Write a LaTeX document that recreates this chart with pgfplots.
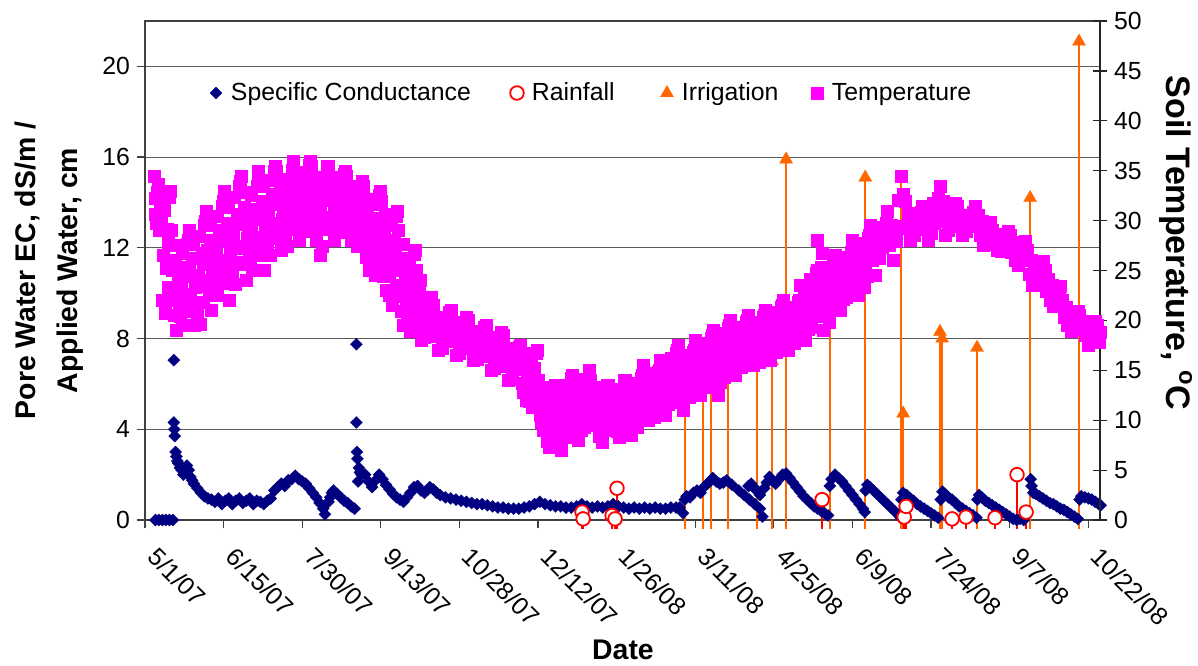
\documentclass[border=0pt]{standalone}
\usepackage{pgfplots}
\pgfplotsset{compat=1.18}
\usepackage{fontspec}
\setmainfont{Liberation Sans}
\definecolor{ecnavy}{RGB}{0,0,128}
\definecolor{irrorange}{RGB}{255,102,0}
\definecolor{tempmag}{RGB}{255,0,255}
\definecolor{rainred}{RGB}{255,0,0}
\newcommand{\tickfont}{\fontsize{12.4}{14}\selectfont}
\pgfplotsset{
 ecstyle/.style={only marks, mark=square*, mark size=2.15pt, color=ecnavy, mark options={rotate=45, fill=ecnavy, draw=ecnavy, line width=0.1pt}},
 rainstyle/.style={only marks, mark=*, mark size=3.4pt, color=rainred, mark options={fill=white, draw=rainred, line width=0.9pt}},
 irrstyle/.style={only marks, mark=triangle*, mark size=3.8pt, color=irrorange, mark options={fill=irrorange, draw=irrorange, line width=0.1pt}},
 tstyle/.style={only marks, mark=square*, mark size=3.0pt, color=tempmag, mark options={fill=tempmag, draw=tempmag, line width=0.1pt}},
 myleg/.style={legend image code/.code={\path[draw=none,fill=none] (-3.5pt,-3pt) rectangle (3.5pt,3pt); \draw[##1] plot coordinates {(0pt,0pt)};}},
}
\begin{document}
\begin{tikzpicture}
\useasboundingbox (-72.5pt,-72.5pt) rectangle (526.5pt,260pt);
\begin{axis}[
  at={(0,0)}, anchor=south west,
  scale only axis, width=477.5pt, height=249.5pt,
  xmin=0, xmax=546.7, ymin=0, ymax=22,
  clip=false,
  axis line style={black!75, line width=0.6pt},
  xtick={0,45,...,540},
  xticklabels={5/1/07,6/15/07,7/30/07,9/13/07,10/28/07,12/12/07,1/26/08,3/11/08,4/25/08,6/9/08,7/24/08,9/7/08,10/22/08},
  xtick pos=lower, ytick pos=left,
  tick align=outside,
  major tick length=4pt,
  tick style={black!75, line width=0.6pt},
  ytick={0,4,...,20},
  ymajorgrids, grid style={black!65, line width=0.5pt},
  xticklabel style={xshift=7pt, yshift=-4pt, rotate=-45, anchor=north west, font=\tickfont},
  yticklabel style={font=\tickfont},
  /pgf/number format/assume math mode=true,
  ylabel={Pore Water EC, dS/m /\\Applied Water, cm},
  ylabel style={at={(axis description cs:-0.1005,0.5)}, anchor=center, align=center, font=\bfseries\fontsize{14.2}{20.8}\selectfont},
  xlabel={Date},
  xlabel style={at={(axis description cs:0.5005,-0.2605)}, anchor=center, font=\bfseries\fontsize{14.2}{17}\selectfont},
]
% Irrigation (drop lines + triangles)
\addplot[irrstyle, error bars/.cd, y dir=minus, y explicit, error mark=none, error bar style={line width=1pt, irrorange}]
 table[x=d, y=v, y error minus=e] {
d v e
309.2 6.5 6.9
319.5 6.8 7.2
324.1 7.0 7.4
333.6 7.5 7.9
350.4 7.0 7.4
359.0 7.0 7.4
367.0 15.9 16.3
392.2 9.5 9.9
412.3 15.1 15.5
432.9 15.1 15.5
434.0 4.7 5.1
455.1 8.3 8.7
456.3 8.0 8.4
476.3 7.6 8.0
506.7 14.2 14.6
534.7 21.1 21.5
};
% Specific conductance
\addplot[ecstyle] coordinates {
(6,0)(8,0)(10,0)(12,0)(14,0)(16,0)
(16.5,7.05)(16.5,4.3)(16.8,4.0)(17,3.7)(17.5,3.0)(18,2.8)(18.5,2.6)(19,2.5)(20,2.3)(21,2.2)(22,2.0)(23,2.2)(24,2.4)(25,2.2)(26,1.9)(27,1.75)(28,1.6)(30,1.4)(32,1.2)(34,1.05)(36,0.95)(38,0.9)
(40,0.8)(42,0.95)(44,0.7)(46,0.85)(48,0.95)(50,0.7)(52,0.85)(54,0.95)(56,0.75)(58,0.85)(60,0.95)(62,0.7)(64,0.85)(66,0.8)(68,0.7)(70,0.85)(72,0.95)
(74,1.3)(76,1.45)(78,1.6)(80,1.5)(82,1.75)(84,1.8)(86,1.95)(88,1.8)(90,1.7)(92,1.6)(94,1.4)(96,1.2)(98,1.0)(100,0.75)(102,0.5)(103,0.25)(105,0.8)(106,1.0)(107,1.2)(108,1.3)(110,1.15)(112,1.0)(114,0.85)(116,0.75)(118,0.6)(120,0.5)
(121,7.75)(121,4.3)(121.3,3.0)(121.6,2.7)(122,1.7)(122.5,2.3)(123,2.1)(124,2.0)(126,2.0)(128,1.7)(130,1.45)(132,1.75)(134,2.0)(136,1.8)(138,1.55)(140,1.35)(142,1.15)(144,1.0)(146,0.9)(148,0.8)(150,1.0)(152,1.2)(154,1.45)(156,1.5)(158,1.3)(160,1.2)(162,1.35)(163,1.45)(165,1.35)(167,1.2)(169,1.1)(172,1.0)(175,0.95)(178,0.9)(181,0.85)(184,0.8)(187,0.75)(190,0.7)(193,0.7)(196,0.65)(199,0.6)(202,0.55)(205,0.55)(208,0.5)(211,0.5)(214,0.5)(217,0.55)(220,0.6)(223,0.7)(226,0.8)(229,0.7)(232,0.65)(235,0.6)(238,0.6)(241,0.55)(244,0.55)(247,0.6)(250,0.7)(253,0.6)(256,0.55)(259,0.6)(262,0.55)(265,0.6)(268,0.7)(271,0.6)(274,0.55)(277,0.5)(280,0.55)(283,0.5)(286,0.55)(289,0.5)(292,0.55)(295,0.5)(298,0.5)(301,0.55)(304,0.55)(306,0.55)
(308,0.3)(309,0.9)(310,1.05)(312,1.0)(314,1.2)(316,1.3)(318,1.2)(320,1.45)(322,1.6)(324,1.75)(325,1.85)(327,1.7)(329,1.6)(331,1.65)(333,1.75)(336,1.55)(340,1.3)(343,1.1)(346,0.9)(349,0.7)(352,0.5)
(345.5,1.5)(347,1.6)(348.5,1.45)(350,1.3)(352,1.1)(353.5,0.15)
(354.5,1.4)(356,1.65)(357.5,1.9)(359,1.75)(361,1.6)(363,1.8)(365,2.0)(367,2.05)(369,1.85)(371,1.65)(373,1.45)(375,1.25)(377,1.05)(379,0.9)(381,0.75)(383,0.6)(385,0.5)(387,0.4)(389,0.3)(391,0.2)
(392,1.5)(393,1.8)(395,2.0)(397,1.85)(399,1.7)(401,1.5)(403,1.3)(405,1.1)(407,0.9)(409,0.7)(411,0.5)(412,0.35)
(412.5,1.3)(413.5,1.55)(415,1.45)(417,1.3)(419,1.15)(421,1.0)(423,0.85)(425,0.7)(427,0.55)(429,0.4)(431,0.25)(432.5,0.1)
(433,0.9)(434,1.2)(436,1.1)(438,0.95)(440,0.85)(442,0.7)(444,0.6)(446,0.5)(448,0.4)(450,0.3)(452,0.2)(454,0.1)
(455.5,0.9)(456.5,1.25)(458,1.15)(460,1.0)(462,0.9)(464,0.75)(466,0.6)(468,0.5)(470,0.4)(472,0.3)(474,0.2)(476,0.1)
(476.5,0.9)(477.5,1.1)(479,1.0)(481,0.85)(483,0.75)(485,0.65)(487,0.55)(489,0.45)(491,0.35)(493,0.25)(495,0.15)(497,0.05)(499,0.0)(501,0.05)(503,0.0)
(507,1.8)(507.5,1.5)(508.5,1.2)(510,1.15)(512,1.05)(514,0.95)(516,0.85)(518,0.75)(520,0.7)(522,0.6)(524,0.5)(526,0.45)(528,0.35)(530,0.25)(532,0.15)(534,0.05)
(535,0.9)(536,1.05)(538,1.0)(540,0.95)(542,0.9)(544,0.8)(546,0.7)(547,0.65)
};
% Rainfall (drop lines + open circles)
\addplot[rainstyle, error bars/.cd, y dir=minus, y explicit, error mark=none, error bar style={line width=1pt, rainred}]
 table[x=d, y=v, y error minus=e] {
d v e
250.2 0.35 0.75
250.8 0.05 0.45
267.4 0.2 0.6
269.1 0.05 0.45
270.2 1.4 1.8
387.6 0.9 1.3
434.6 0.13 0.53
435.7 0.6 1.0
462.0 0.05 0.45
470.0 0.13 0.53
486.6 0.1 0.5
499.2 2.0 2.4
504.4 0.35 0.75
};
\end{axis}
\begin{axis}[
  at={(0,0)}, anchor=south west,
  scale only axis, width=477.5pt, height=249.5pt,
  xmin=0, xmax=546.7, ymin=0, ymax=50,
  clip=false,
  axis x line=none,
  axis y line*=right,
  axis line style={black!85, line width=0.6pt},
  ytick={0,5,...,50},
  tick align=center,
  major tick length=7pt,
  tick style={black!85, line width=0.6pt},
  yticklabel style={font=\tickfont},
  /pgf/number format/assume math mode=true,
  legend columns=4,
  legend cell align=left,
  legend style={at={(axis description cs:0.067,0.8557)}, anchor=west, draw=none, fill=none, inner sep=0pt, outer sep=0pt, font=\tickfont, nodes={inner sep=0pt},
   /tikz/every odd column/.append style={column sep=4pt},
   /tikz/every even column/.append style={column sep=0pt}},
]
\addlegendimage{ecstyle, myleg}
\addlegendentry{\makebox[139.5pt][l]{Specific Conductance}}
\addlegendimage{rainstyle, myleg}
\addlegendentry{\makebox[64pt][l]{Rainfall}}
\addlegendimage{irrstyle, myleg}
\addlegendentry{\makebox[64pt][l]{Irrigation}}
\addplot[tstyle, myleg] coordinates {
(5,34.5)(6,30.7)(7,32.9)(8,29.0)(9,31.8)
(10,22.0)(11,31.1)(12,25.2)(13,27.8)(14,32.4)
(15,29)(16,22)(17,26)(18,19)(19,24)
(20,20.4)(21,26.7)(22,22.6)(23,24.4)(24,27.6)
(25,29)(26,22.4)(27,26.2)(28,19.5)(29,24.3)
(30,20.7)(31,28.4)(32,23.4)(33,25.6)(34,29.5)
(35,31)(36,24)(37,28)(38,21)(39,26)
(40,23.5)(41,30.5)(42,26)(43,28)(44,31.5)
(45,33)(46,25.3)(47,29.7)(48,22)(49,27.5)
(50,24.7)(51,32.4)(52,27.4)(53,29.6)(54,33.5)
(55,34.5)(56,27.2)(57,31.4)(58,24)(59,29.3)
(60,25.9)(61,32.6)(62,28.3)(63,30.2)(64,33.5)
(65,35)(66,28)(67,32)(68,25)(69,30)
(70,27.4)(71,34.1)(72,29.8)(73,31.7)(74,35.0)
(75,35)(76,29.4)(77,32.6)(78,27)(79,31)
(80,28.3)(81,34.2)(82,30.4)(83,32.1)(84,35.1)
(85,36)(86,30.4)(87,33.6)(88,28)(89,32)
(90,29.6)(91,34.9)(92,31.5)(93,33)(94,35.6)
(95,35.5)(96,30.3)(97,33.3)(98,28)(99,31.8)
(100,26.5)(101,34.2)(102,30.4)(103,32.1)(104,35.1)
(105,35.5)(106,30.3)(107,33.3)(108,28)(109,31.8)
(110,29.5)(111,34)(112,31.1)(113,32.4)(114,34.7)
(115,34.5)(116,30)(117,32.6)(118,28)(119,31.3)
(120,28.1)(121,33)(122,29.8)(123,31.2)(124,33.7)
(125,33.5)(126,27.6)(127,31)(128,25)(129,29.3)
(130,25.4)(131,31.7)(132,27.6)(133,29.4)(134,32.6)
(135,32)(136,25.7)(137,29.3)(138,23)(139,27.5)
(140,22.5)(141,29.5)(142,25)(143,27)(144,30.5)
(145,29)(146,22.4)(147,26.2)(148,19.5)(149,24.3)
(150,19.8)(151,25.7)(152,21.9)(153,23.6)(154,26.6)
(155,25)(156,20.1)(157,22.9)(158,18)(159,21.5)
(160,18.3)(161,21.8)(162,19.5)(163,20.5)(164,22.3)
(165,21.5)(166,18.4)(167,20.2)(168,17)(169,19.3)
(170,17.2)(171,20.3)(172,18.3)(173,19.2)(174,20.8)
(175,21)(176,17.9)(177,19.7)(178,16.5)(179,18.8)
(180,16.7)(181,19.8)(182,17.8)(183,18.7)(184,20.3)
(185,20)(186,17.2)(187,18.8)(188,16)(189,18)
(190,16.1)(191,18.9)(192,17.1)(193,17.9)(194,19.3)
(195,19.5)(196,16.4)(197,18.2)(198,15)(199,17.3)
(200,15.2)(201,18.3)(202,16.3)(203,17.2)(204,18.8)
(205,18.5)(206,15.4)(207,17.2)(208,14)(209,16.3)
(210,14.1)(211,16.9)(212,15.1)(213,15.9)(214,17.3)
(215,17.5)(216,13.7)(217,15.9)(218,12)(219,14.8)
(220,11.9)(221,16.1)(222,13.4)(223,14.6)(224,16.7)
(225,14)(226,10.5)(227,12.5)(228,9)(229,11.5)
(230,7.9)(231,12.1)(232,9.4)(233,10.6)(234,12.7)
(235,13.5)(236,9)(237,11.6)(238,7)(239,10.3)
(240,9)(241,13.5)(242,10.6)(243,11.9)(244,14.2)
(245,13)(246,9.5)(247,11.5)(248,8)(249,10.5)
(250,9.9)(251,14.1)(252,11.4)(253,12.6)(254,14.7)
(255,14)(256,10.9)(257,12.7)(258,9.5)(259,11.8)
(260,8.4)(261,12.6)(262,9.9)(263,11.1)(264,13.2)
(265,13.5)(266,10.4)(267,12.2)(268,9)(269,11.3)
(270,8.9)(271,13.1)(272,10.4)(273,11.6)(274,13.7)
(275,14)(276,10.2)(277,12.4)(278,8.5)(279,11.3)
(280,9.8)(281,13.7)(282,11.2)(283,12.3)(284,14.2)
(285,15.5)(286,11.7)(287,13.9)(288,10)(289,12.8)
(290,10.8)(291,14.3)(292,12)(293,13)(294,14.8)
(295,16)(296,12.2)(297,14.4)(298,10.5)(299,13.3)
(300,12.3)(301,16.2)(302,13.7)(303,14.8)(304,16.7)
(305,17.5)(306,13)(307,15.6)(308,11)(309,14.3)
(310,12.8)(311,16.3)(312,14)(313,15)(314,16.8)
(315,18)(316,14.2)(317,16.4)(318,12.5)(319,15.3)
(320,13.8)(321,17.7)(322,15.2)(323,16.3)(324,18.2)
(325,19)(326,14.5)(327,17.1)(328,12.5)(329,15.8)
(330,14.8)(331,18.7)(332,16.2)(333,17.3)(334,19.2)
(335,20)(336,16.2)(337,18.4)(338,14.5)(339,17.3)
(340,15.8)(341,19.3)(342,17)(343,18)(344,19.8)
(345,20.5)(346,17)(347,19)(348,15.5)(349,18)
(350,16.3)(351,19.8)(352,17.5)(353,18.5)(354,20.3)
(355,21)(356,17.5)(357,19.5)(358,16)(359,18.5)
(360,17.3)(361,20.8)(362,18.5)(363,19.5)(364,21.3)
(365,22)(366,18.5)(367,20.5)(368,17)(369,19.5)
(370,18.2)(371,21.3)(372,19.3)(373,20.2)(374,21.8)
(375,23.5)(376,19.7)(377,21.9)(378,18)(379,20.8)
(380,19.9)(381,24.1)(382,21.4)(383,22.6)(384,24.7)
(385,28)(386,21.7)(387,25.3)(388,19)(389,23.5)
(390,20.5)(391,25)(392,22.1)(393,23.4)(394,25.7)
(395,26.5)(396,22.7)(397,24.9)(398,21)(399,23.8)
(400,22.8)(401,26.3)(402,24)(403,25)(404,26.8)
(405,28)(406,24.2)(407,26.4)(408,22.5)(409,25.3)
(410,23.8)(411,27.7)(412,25.2)(413,26.3)(414,28.2)
(415,29.5)(416,26)(417,28)(418,24.5)(419,27)
(420,26.2)(421,29.3)(422,27.3)(423,28.2)(424,29.8)
(425,31)(426,27.5)(427,29.5)(428,26)(429,28.5)
(430,27.9)(431,32.1)(432,29.4)(433,34.5)(434,32.7)
(435,32)(436,29.2)(437,30.8)(438,28)(439,30)
(440,28.5)(441,30.6)(442,29.2)(443,29.8)(444,30.9)
(445,31.5)(446,29.1)(447,30.5)(448,28)(449,29.8)
(450,28.7)(451,31.8)(452,29.8)(453,30.7)(454,32.3)
(455,33.5)(456,30)(457,32)(458,28.5)(459,31)
(460,29)(461,31.5)(462,29.9)(463,30.6)(464,31.8)
(465,31.5)(466,29.4)(467,30.6)(468,28.5)(469,30)
(470,28.9)(471,30.6)(472,29.5)(473,30)(474,30.9)
(475,31.5)(476,29.4)(477,30.6)(478,28.5)(479,30)
(480,27.5)(481,29.6)(482,28.2)(483,28.8)(484,29.9)
(485,29)(486,27.6)(487,28.4)(488,27)(489,28)
(490,26.9)(491,28.6)(492,27.5)(493,28)(494,28.9)
(495,28.5)(496,26.8)(497,27.8)(498,26)(499,27.3)
(500,25.5)(501,27.6)(502,26.2)(503,26.8)(504,27.9)
(505,27)(506,24.6)(507,26)(508,23.5)(509,25.3)
(510,23.5)(511,25.6)(512,24.2)(513,24.8)(514,25.9)
(515,25)(516,22.9)(517,24.1)(518,22)(519,23.5)
(520,21.4)(521,23.1)(522,22)(523,22.5)(524,23.4)
(525,22)(526,20.3)(527,21.3)(528,19.5)(529,20.8)
(530,18.9)(531,20.6)(532,19.5)(533,20)(534,20.9)
(535,20.5)(536,19.1)(537,19.9)(538,18.5)(539,19.5)
(540,17.5)(541,19.6)(542,18.2)(543,18.8)(544,19.9)
(545,19.5)(546,17.8)(547,18.8)
};
\addlegendentry{Temperature}
% additional temperature readings (half days)
\addplot[tstyle, forget plot] coordinates {
(5.5,32.3)(6.5,29.8)(7.5,33.7)(8.5,31.2)(9.5,30.1)
(10.5,26.5)(11.5,20.7)(12.5,29.1)(13.5,23.3)(14.5,33)
(15.5,25)(16.5,20.5)(17.5,27.5)(18.5,23)(19.5,21)
(20.5,23.5)(21.5,19.5)(22.5,25.3)(23.5,21.3)(24.5,28)
(25.5,25.2)(26.5,20.9)(27.5,27.6)(28.5,23.3)(29.5,21.4)
(30.5,24.5)(31.5,19.6)(32.5,26.7)(33.5,21.8)(34.5,30)
(35.5,27)(36.5,22.5)(37.5,29.5)(38.5,25)(39.5,23)
(40.5,27)(41.5,22.5)(42.5,29)(43.5,24.5)(44.5,32)
(45.5,28.6)(46.5,23.7)(47.5,31.4)(48.5,26.4)(49.5,24.2)
(50.5,28.5)(51.5,23.6)(52.5,30.7)(53.5,25.8)(54.5,34)
(55.5,30.3)(56.5,25.6)(57.5,32.9)(58.5,28.2)(59.5,26.1)
(60.5,29.3)(61.5,25)(62.5,31.2)(63.5,26.9)(64.5,34)
(65.5,31)(66.5,26.5)(67.5,33.5)(68.5,29)(69.5,27)
(70.5,30.8)(71.5,26.5)(72.5,32.7)(73.5,28.4)(74.5,35.5)
(75.5,31.8)(76.5,28.2)(77.5,33.8)(78.5,30.2)(79.5,28.6)
(80.5,31.3)(81.5,27.4)(82.5,33)(83.5,29.1)(84.5,35.5)
(85.5,32.8)(86.5,29.2)(87.5,34.8)(88.5,31.2)(89.5,29.6)
(90.5,32.3)(91.5,28.9)(92.5,33.8)(93.5,30.4)(94.5,36)
(95.5,32.5)(96.5,29.1)(97.5,34.4)(98.5,31)(99.5,29.5)
(100.5,31.3)(101.5,27.4)(102.5,33)(103.5,29.1)(104.5,35.5)
(105.5,32.5)(106.5,29.1)(107.5,34.4)(108.5,31)(109.5,29.5)
(110.5,31.8)(111.5,28.8)(112.5,33.1)(113.5,30.1)(114.5,35)
(115.5,31.9)(116.5,29)(117.5,33.5)(118.5,30.6)(119.5,29.3)
(120.5,30.5)(121.5,27.4)(122.5,31.9)(123.5,28.8)(124.5,34)
(125.5,30.1)(126.5,26.3)(127.5,32.2)(128.5,28.4)(129.5,26.7)
(130.5,28.5)(131.5,24.5)(132.5,30.3)(133.5,26.3)(134.5,33)
(135.5,28.4)(136.5,24.4)(137.5,30.7)(138.5,26.6)(139.5,24.8)
(140.5,26)(141.5,21.5)(142.5,28)(143.5,23.5)(144.5,31)
(145.5,25.2)(146.5,20.9)(147.5,27.6)(148.5,23.3)(149.5,21.4)
(150.5,22.8)(151.5,18.9)(152.5,24.5)(153.5,20.6)(154.5,27)
(155.5,22.2)(156.5,19.1)(157.5,24)(158.5,20.8)(159.5,19.4)
(215.5,15.3)(216.5,12.8)(217.5,16.7)(218.5,14.2)(219.5,13.1)
(220.5,14)(221.5,11.3)(222.5,15.2)(223.5,12.5)(224.5,17)
(225.5,12)(226.5,9.8)(227.5,13.3)(228.5,11)(229.5,10)
(230.5,10)(231.5,7.3)(232.5,11.2)(233.5,8.5)(234.5,13)
(235.5,10.9)(236.5,8)(237.5,12.5)(238.5,9.6)(239.5,8.3)
(240.5,11.3)(241.5,8.3)(242.5,12.6)(243.5,9.6)(244.5,14.5)
(245.5,11)(246.5,8.8)(247.5,12.3)(248.5,10)(249.5,9)
(250.5,12)(251.5,9.3)(252.5,13.2)(253.5,10.5)(254.5,15)
(255.5,12.2)(256.5,10.2)(257.5,13.3)(258.5,11.3)(259.5,10.4)
(260.5,10.5)(261.5,7.8)(262.5,11.7)(263.5,9)(264.5,13.5)
(265.5,11.7)(266.5,9.7)(267.5,12.8)(268.5,10.8)(269.5,9.9)
(270.5,11)(271.5,8.3)(272.5,12.2)(273.5,9.5)(274.5,14)
(275.5,11.8)(276.5,9.3)(277.5,13.2)(278.5,10.7)(279.5,9.6)
(280.5,11.8)(281.5,9.3)(282.5,12.9)(283.5,10.4)(284.5,14.5)
(285.5,13.3)(286.5,10.8)(287.5,14.7)(288.5,12.2)(289.5,11.1)
(290.5,12.5)(291.5,10.3)(292.5,13.5)(293.5,11.3)(294.5,15)
(295.5,13.8)(296.5,11.3)(297.5,15.2)(298.5,12.7)(299.5,11.6)
(300.5,14.3)(301.5,11.8)(302.5,15.4)(303.5,12.9)(304.5,17)
(305.5,14.9)(306.5,12)(307.5,16.5)(308.5,13.6)(309.5,12.3)
(310.5,14.5)(311.5,12.3)(312.5,15.5)(313.5,13.3)(314.5,17)
(315.5,15.8)(316.5,13.3)(317.5,17.2)(318.5,14.7)(319.5,13.6)
(320.5,15.8)(321.5,13.3)(322.5,16.9)(323.5,14.4)(324.5,18.5)
(325.5,16.4)(326.5,13.5)(327.5,18)(328.5,15.1)(329.5,13.8)
(330.5,16.8)(331.5,14.3)(332.5,17.9)(333.5,15.4)(334.5,19.5)
(335.5,17.8)(336.5,15.3)(337.5,19.2)(338.5,16.7)(339.5,15.6)
(340.5,17.5)(341.5,15.3)(342.5,18.5)(343.5,16.3)(344.5,20)
(345.5,18.5)(346.5,16.3)(347.5,19.8)(348.5,17.5)(349.5,16.5)
(350.5,18)(351.5,15.8)(352.5,19)(353.5,16.8)(354.5,20.5)
(355.5,19)(356.5,16.8)(357.5,20.3)(358.5,18)(359.5,17)
(360.5,19)(361.5,16.8)(362.5,20)(363.5,17.8)(364.5,21.5)
(365.5,20)(366.5,17.8)(367.5,21.3)(368.5,19)(369.5,18)
(370.5,19.8)(371.5,17.7)(372.5,20.7)(373.5,18.6)(374.5,22)
(375.5,21.3)(376.5,18.8)(377.5,22.7)(378.5,20.2)(379.5,19.1)
(380.5,22)(381.5,19.3)(382.5,23.2)(383.5,20.5)(384.5,25)
(385.5,24.4)(386.5,20.4)(387.5,26.7)(388.5,22.6)(389.5,20.8)
(390.5,22.8)(391.5,19.8)(392.5,24.1)(393.5,21.1)(394.5,26)
(395.5,24.3)(396.5,21.8)(397.5,25.7)(398.5,23.2)(399.5,22.1)
(400.5,24.5)(401.5,22.3)(402.5,25.5)(403.5,23.3)(404.5,27)
(405.5,25.8)(406.5,23.3)(407.5,27.2)(408.5,24.7)(409.5,23.6)
(410.5,25.8)(411.5,23.3)(412.5,26.9)(413.5,24.4)(414.5,28.5)
};
\node[rotate=-90, anchor=center, font=\bfseries\fontsize{17}{20}\selectfont] at (axis description cs:1.0796,0.555) {Soil Temperature, \textsuperscript{o}C};
\end{axis}
\end{tikzpicture}
\end{document}
